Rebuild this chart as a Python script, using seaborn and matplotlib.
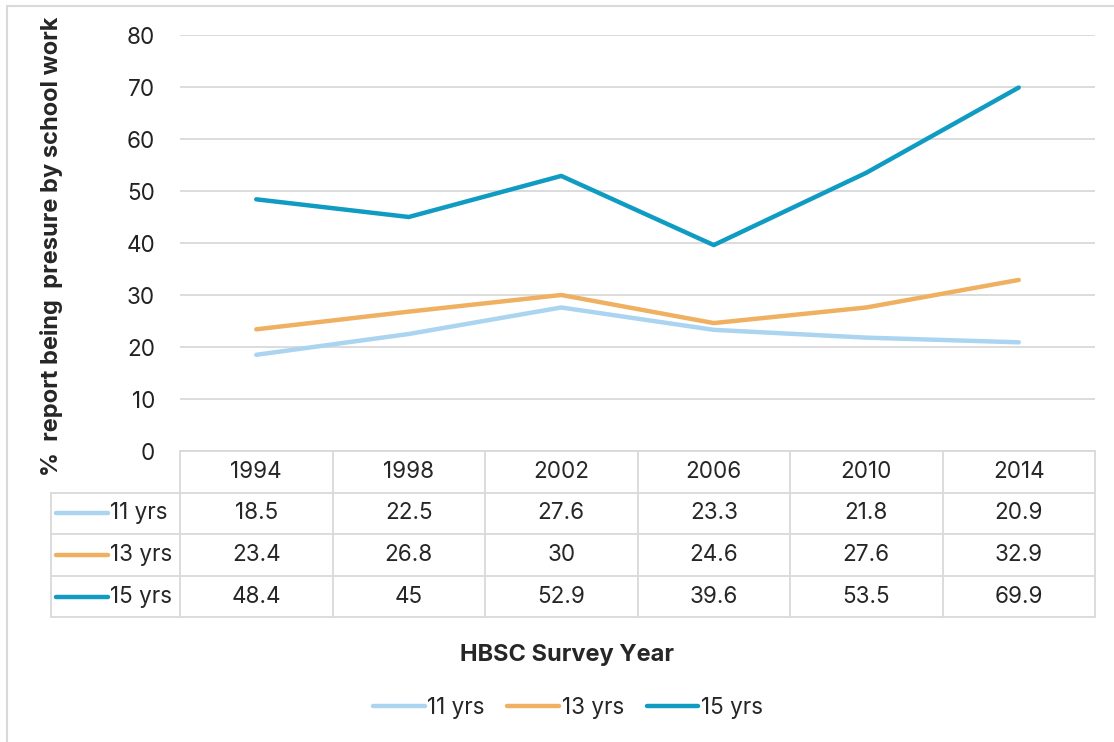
import matplotlib.pyplot as plt
import pandas as pd
import seaborn as sns
from matplotlib.lines import Line2D

# data
years = ["1994", "1998", "2002", "2006", "2010", "2014"]
age_groups = ["11 yrs", "13 yrs", "15 yrs"]
yrs11 = [18.5, 22.5, 27.6, 23.3, 21.8, 20.9]
yrs13 = [23.4, 26.8, 30, 24.6, 27.6, 32.9]
yrs15 = [48.4, 45, 52.9, 39.6, 53.5, 69.9]
colors = ["#aad4f0", "#f0b062", "#0f9bc2"]

series = [yrs11, yrs13, yrs15]
df = pd.DataFrame(
    [(y, g, v) for g, vals in zip(age_groups, series) for y, v in zip(years, vals)],
    columns=["year", "age", "pct"],
)

sns.set_style("white")
plt.rcParams["font.family"] = ["Inter", "DejaVu Sans"]
grid_c = "#d9d9d9"
fs = 16.2
fs_b = 17

W, H = 1114, 742
fig = plt.figure(figsize=(W / 100, H / 100), dpi=100)
ax = fig.add_axes([180 / W, 1 - 451 / H, 915 / W, 416 / H])

sns.lineplot(
    data=df, x="year", y="pct", hue="age", palette=dict(zip(age_groups, colors)),
    linewidth=3.2, ax=ax, legend=False, sort=False,
)
ax.set_xlim(-0.5, len(years) - 0.5)
ax.set_ylim(0, 80)
ax.set_yticks(range(0, 81, 10))
ax.grid(axis="y", color=grid_c, linewidth=1.3)
ax.set_axisbelow(True)
for s in ax.spines.values():
    s.set_visible(False)
ax.set_xticks([])
ax.tick_params(axis="y", length=0, pad=18, labelsize=fs, labelcolor="#222222")
ax.set_xlabel("")
ax.set_ylabel("")

# y label
ax.text(-0.14, 0.493, "%  report being  presure by school work", transform=ax.transAxes,
        rotation=90, ha="center", va="center", fontsize=fs_b, fontweight="bold")

# data table below the axes
tr = ax.get_xaxis_transform()
left_x = -0.5 - (180 - 50.7) / 915 * len(years)
row_h = 0.1
lk = dict(color=grid_c, linewidth=1.3, clip_on=False, transform=tr)
# horizontal lines
ax.plot([-0.5, 5.5], [0, 0], **lk)
for r in range(1, 5):
    ax.plot([left_x, 5.5], [-r * row_h, -r * row_h], **lk)
# vertical lines
for c in range(len(years) + 1):
    ax.plot([c - 0.5, c - 0.5], [0, -4 * row_h], **lk)
ax.plot([left_x, left_x], [-row_h, -4 * row_h], **lk)

for i, y in enumerate(years):
    ax.text(i, -0.5 * row_h, y, transform=tr, ha="center", va="center", fontsize=fs)
for r, (g, vals, col) in enumerate(zip(age_groups, series, colors), start=1):
    yc = -(r + 0.5) * row_h
    for i, v in enumerate(vals):
        ax.text(i, yc, f"{v:g}", transform=tr, ha="center", va="center", fontsize=fs)
    x0 = -0.5 - (180 - 56) / 915 * len(years)
    x1 = -0.5 - (180 - 108) / 915 * len(years)
    ax.plot([x0, x1], [yc, yc], color=col, linewidth=3.2, solid_capstyle="round",
            clip_on=False, transform=tr)
    ax.text(-0.5 - (180 - 110) / 915 * len(years), yc, g, transform=tr,
            ha="left", va="center", fontsize=fs)

# x label
fig.text(567 / W, 1 - 655 / H, "HBSC Survey Year", ha="center", va="center",
         fontsize=fs_b, fontweight="bold")

# legend
handles = [Line2D([], [], color=c, linewidth=3.2, solid_capstyle="round") for c in colors]
fig.legend(handles, age_groups, loc="center", bbox_to_anchor=(568 / W, 1 - 708 / H),
           ncol=3, frameon=False, fontsize=fs, handlelength=2.3, handletextpad=0.12,
           columnspacing=1.0)

# chart frame (top and left edges visible)
fig.add_artist(Line2D([7 / W, 1], [1 - 6 / H, 1 - 6 / H], color=grid_c, linewidth=1.5))
fig.add_artist(Line2D([7 / W, 7 / W], [0, 1 - 6 / H], color=grid_c, linewidth=1.5))

fig.savefig("out.png", dpi=100, facecolor="white")
